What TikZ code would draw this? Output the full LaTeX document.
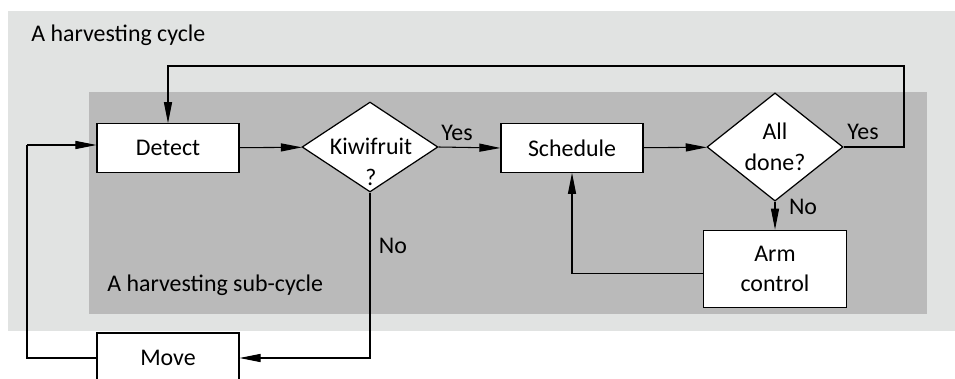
\documentclass[tikz,border=0pt]{standalone}
\usepackage{fontspec}
\setmainfont{Carlito}
\usetikzlibrary{shapes.geometric,arrows.meta}
\definecolor{outerbg}{HTML}{E1E3E2}
\definecolor{innerbg}{HTML}{BABABA}
\begin{document}
\begin{tikzpicture}[x=0.02cm,y=-0.02cm,
  font=\fontsize{13.6}{16}\selectfont,
  procbox/.style={draw=black,line width=0.7pt,fill=white,align=center,
    minimum width=2.84cm,minimum height=0.97cm,inner sep=0pt},
  decision/.style={diamond,draw=black,line width=0.7pt,fill=white,
    minimum width=2.72cm,minimum height=1.8cm,inner sep=0pt,align=center},
  flow/.style={line width=0.6pt,-{Triangle[length=12pt,width=4.6pt]}},
  plain/.style={line width=0.6pt},
  lbl/.style={inner sep=0pt,anchor=base}]
\useasboundingbox (0,0) rectangle (955,378);
% background panels
\fill[outerbg] (8,11) rectangle (955,331);
\fill[innerbg] (89,92) rectangle (927,314);
\node[lbl,anchor=base west] (cyc) at (31,42) {A harvesting cycle};
\node[lbl,anchor=base west] (sub) at (107,291) {A harvesting sub-cycle};
% process steps and decisions
\node[procbox] (det) at (168,148) {Detect};
\node[decision] (kiw) at (370,147) {};
\node[align=center,inner sep=0pt] (kiwt) at (371,162) {Kiwifruit\\[1.5pt]?};
\node[procbox] (sch) at (572,148) {Schedule};
\node[decision] (done) at (775,147) {All\\[1.5pt]done?};
\node[procbox,minimum width=2.85cm,minimum height=1.55cm] (arm) at (775,269) {Arm\\[1.5pt]control};
\node[procbox,minimum height=1cm] (mv) at (168,358) {Move};
% turning points of the long loops
\coordinate (topr) at (904,66);
\coordinate (leftl) at (27,145);
% connectors
\draw[flow] (det) -- (kiw);
\draw[flow] (kiw.east) -- (sch.west);
\node[lbl] (yes1) at (457,141) {Yes};
\draw[flow] (sch) -- (done);
\draw[flow] (done.east) -| (topr) -| (det.north);
\node[lbl] (yes2) at (863,140) {Yes};
\draw[flow] (done.south) -- (arm.north);
\node[lbl] (no1) at (803,214) {No};
\draw[flow] ([yshift=-2.6pt]arm.west) -| (sch.south);
\draw[flow] (kiw.south) |- (mv.east);
\node[lbl] (no2) at (393,253) {No};
\draw[plain] (mv.west) -| (leftl);
\draw[flow] (leftl) -- (leftl -| det.west);
\end{tikzpicture}
\end{document}
